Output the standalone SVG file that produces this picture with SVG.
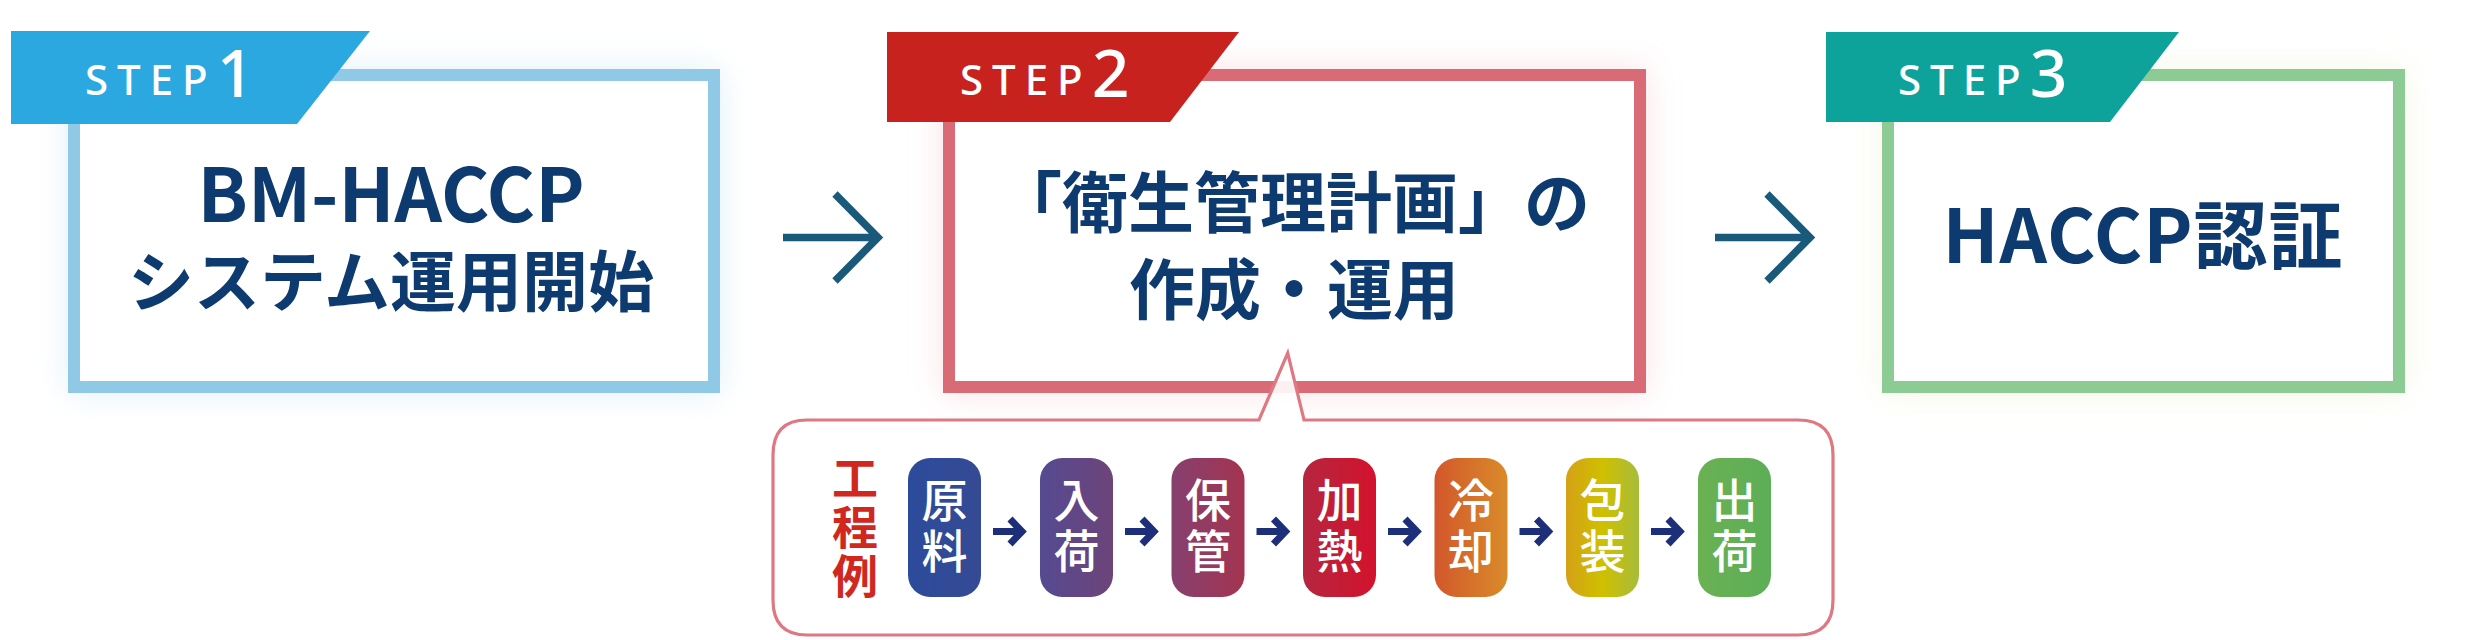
<svg xmlns="http://www.w3.org/2000/svg" width="2492" height="640" viewBox="0 0 2492 640">
<defs>
<style>
.box{fill:#fff;stroke-width:12}
.tab{font-family:"Noto Sans","Lato","Liberation Sans",sans-serif;fill:#fff;font-weight:500}
.tab-t{font-size:42px;letter-spacing:9px}
.tab-n{font-size:66px;letter-spacing:0}
.main{font-family:"Noto Sans CJK JP","Noto Sans",sans-serif;font-weight:700;fill:#0E3B6F;text-anchor:middle}
.pill-t{font-family:"Noto Sans CJK JP",sans-serif;font-weight:500;font-size:46px;fill:#fff;text-anchor:middle;writing-mode:vertical-rl;letter-spacing:5px}
.lbl{font-family:"Noto Sans CJK JP",sans-serif;font-weight:700;font-size:46px;fill:#D0281E;text-anchor:middle;writing-mode:vertical-rl;letter-spacing:3px}
.big-arrow{fill:none;stroke:#19597A;stroke-width:7.5;stroke-linejoin:miter}
.sm-arrow{fill:none;stroke:#1E2F7A;stroke-width:7}
</style>
<filter id="glow" x="-20%" y="-30%" width="140%" height="160%"><feGaussianBlur stdDeviation="16"/></filter>
<linearGradient id="g1" x1="0" x2="1"><stop offset="0" stop-color="#2C4B9B"/><stop offset="1" stop-color="#354A93"/></linearGradient>
<linearGradient id="g2" x1="0" x2="1"><stop offset="0" stop-color="#554A91"/><stop offset="1" stop-color="#6D4479"/></linearGradient>
<linearGradient id="g3" x1="0" x2="1"><stop offset="0" stop-color="#86406F"/><stop offset="1" stop-color="#A43450"/></linearGradient>
<linearGradient id="g4" x1="0" x2="1"><stop offset="0" stop-color="#B5263F"/><stop offset="1" stop-color="#D3122D"/></linearGradient>
<linearGradient id="g5" x1="0" x2="1"><stop offset="0" stop-color="#D2572B"/><stop offset="1" stop-color="#D98B2A"/></linearGradient>
<linearGradient id="g6" x1="0" x2="1"><stop offset="0" stop-color="#D4A116"/><stop offset="0.5" stop-color="#CFC000"/><stop offset="1" stop-color="#A7BC3A"/></linearGradient>
<linearGradient id="g7" x1="0" x2="1"><stop offset="0" stop-color="#6AB152"/><stop offset="1" stop-color="#5DAE58"/></linearGradient>
</defs>
<rect width="2492" height="640" fill="#fff"/>

<!-- glows -->
<rect x="68" y="69" width="652" height="324" fill="#D3EAF6" opacity="0.7" filter="url(#glow)"/>
<rect x="943" y="69" width="703" height="324" fill="#F8D3D7" opacity="0.7" filter="url(#glow)"/>
<rect x="1882" y="69" width="523" height="324" fill="#F1F3DA" opacity="0.7" filter="url(#glow)"/>

<g id="step1">
<rect class="box" x="74" y="75" width="640" height="312" stroke="#8FC9E6"/>
<path d="M11,31 L370,31 L297,124 L11,124 Z" fill="#2BA8E0"/>
<text class="tab" x="85" y="95"><tspan class="tab-t">STEP</tspan><tspan class="tab-n" y="97">1</tspan></text>
<text class="main"><tspan x="391" y="222" font-size="74">BM-HACCP</tspan><tspan x="391" y="306" font-size="66">システム運用開始</tspan></text>
</g>

<g id="step2">
<rect class="box" x="949" y="75" width="691" height="312" stroke="#D96B77"/>
<path d="M887,32 L1239,32 L1170,122 L887,122 Z" fill="#C8221F"/>
<text class="tab" x="960" y="95"><tspan class="tab-t">STEP</tspan><tspan class="tab-n" y="97">2</tspan></text>
<text class="main" font-size="66"><tspan x="1293" y="227">「衛生管理計画」の</tspan><tspan x="1294" y="314">作成・運用</tspan></text>
</g>

<g id="step3">
<rect class="box" x="1888" y="75" width="511" height="312" stroke="#8DCB95"/>
<path d="M1826,32 L2179,32 L2110,122 L1826,122 Z" fill="#0EA39A"/>
<text class="tab" x="1898" y="95"><tspan class="tab-t">STEP</tspan><tspan class="tab-n" y="97">3</tspan></text>
<text class="main" x="2143" y="263" font-size="74" letter-spacing="1">HACCP認証</text>
</g>

<g id="process-callout">
<path d="M807,420 L1259,420 L1287.7,353 L1304,420 L1798,420 Q1833,420 1833,455 L1833,600 Q1833,635 1798,635 L807,635 Q773,635 773,600 L773,455 Q773,420 807,420 Z" fill="#fff" fill-opacity="0.9" stroke="#DE7883" stroke-width="3.2" stroke-linejoin="miter"/>
<text class="lbl" x="855" y="528">工程例</text>
</g>

<g id="pill-1"><rect x="908" y="458" width="73" height="139" rx="22" fill="url(#g1)"/><text class="pill-t" x="944.5" y="527.5">原料</text></g>
<g id="pill-2"><rect x="1040" y="458" width="73" height="139" rx="22" fill="url(#g2)"/><text class="pill-t" x="1076.5" y="527.5">入荷</text></g>
<g id="pill-3"><rect x="1171.5" y="458" width="73" height="139" rx="22" fill="url(#g3)"/><text class="pill-t" x="1208" y="527.5">保管</text></g>
<g id="pill-4"><rect x="1303" y="458" width="73" height="139" rx="22" fill="url(#g4)"/><text class="pill-t" x="1339.5" y="527.5">加熱</text></g>
<g id="pill-5"><rect x="1434.5" y="458" width="73" height="139" rx="22" fill="url(#g5)"/><text class="pill-t" x="1471" y="527.5">冷却</text></g>
<g id="pill-6"><rect x="1566" y="458" width="73" height="139" rx="22" fill="url(#g6)"/><text class="pill-t" x="1602.5" y="527.5">包装</text></g>
<g id="pill-7"><rect x="1698" y="458" width="73" height="139" rx="22" fill="url(#g7)"/><text class="pill-t" x="1734.5" y="527.5">出荷</text></g>

<g id="connectors">
<path class="big-arrow" d="M783,237.5 L879,237.5 M835,194 L878,237.5 L835,281"/>
<path class="big-arrow" d="M1715,237.5 L1811,237.5 M1767,194 L1810,237.5 L1767,281"/>
<path class="sm-arrow" d="M993,531.5 L1022,531.5 M1010,519 L1022,531.5 L1010,544"/>
<path class="sm-arrow" d="M1125,531.5 L1154,531.5 M1142,519 L1154,531.5 L1142,544"/>
<path class="sm-arrow" d="M1256.5,531.5 L1285.5,531.5 M1273.5,519 L1285.5,531.5 L1273.5,544"/>
<path class="sm-arrow" d="M1388,531.5 L1417,531.5 M1405,519 L1417,531.5 L1405,544"/>
<path class="sm-arrow" d="M1519.5,531.5 L1548.5,531.5 M1536.5,519 L1548.5,531.5 L1536.5,544"/>
<path class="sm-arrow" d="M1651,531.5 L1680,531.5 M1668,519 L1680,531.5 L1668,544"/>
</g>
</svg>
